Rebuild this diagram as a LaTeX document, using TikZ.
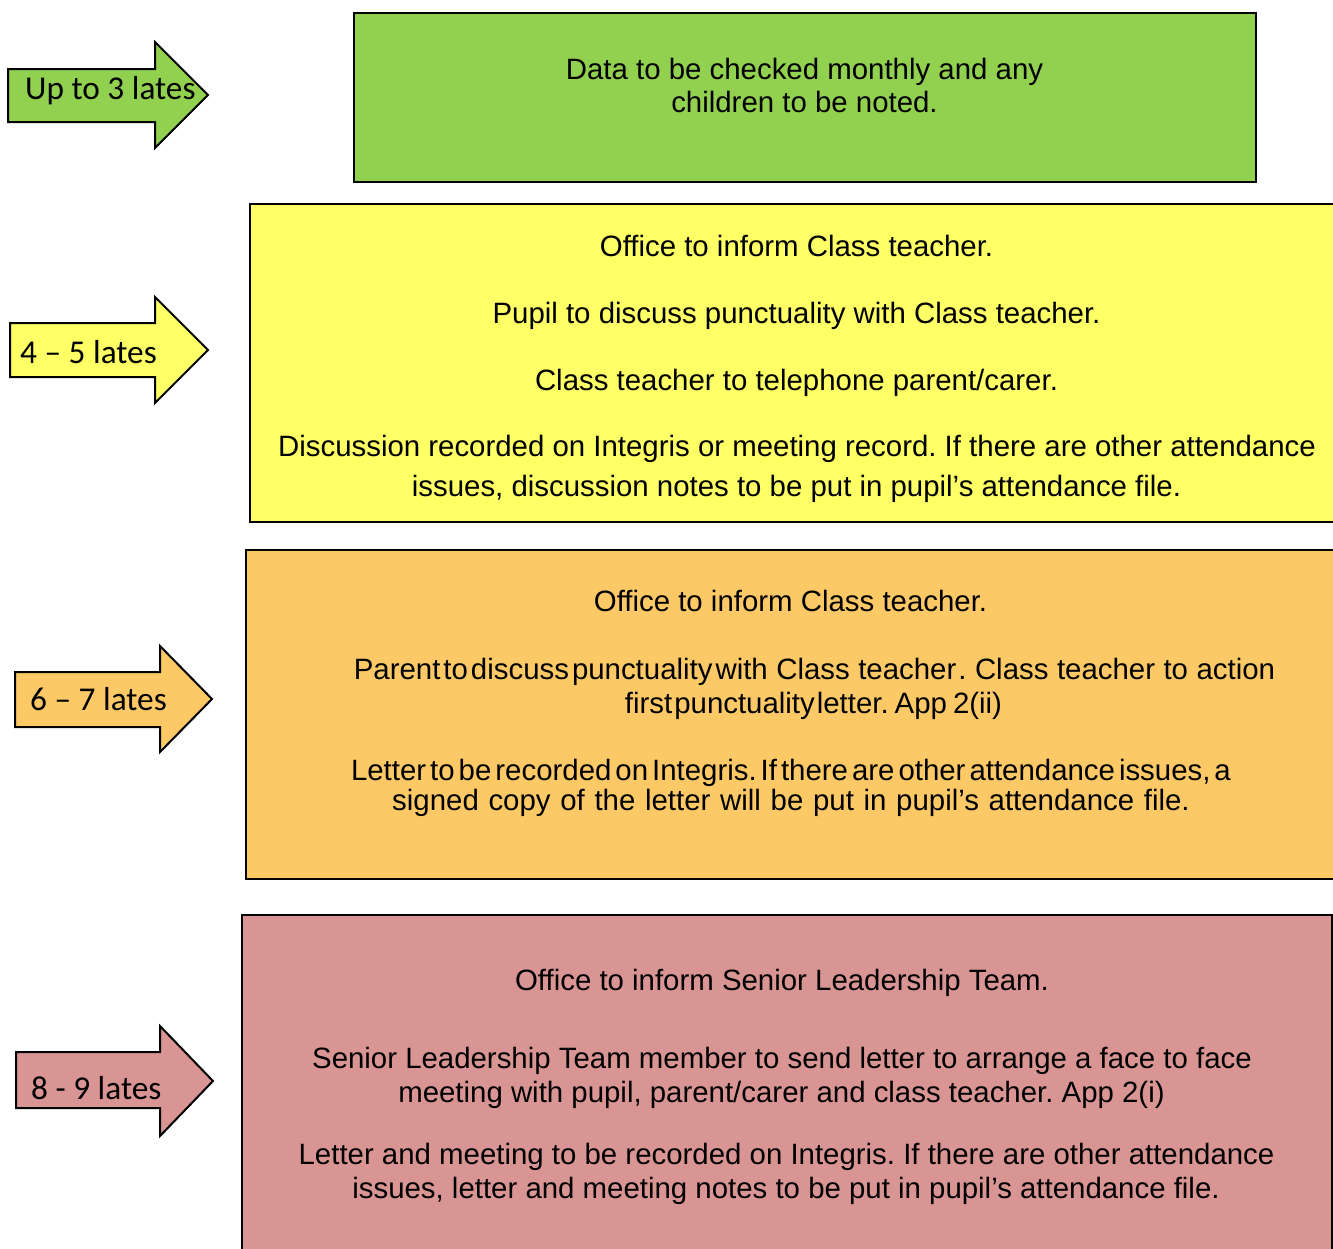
\documentclass[tikz,border=0pt]{standalone}
\usepackage{fontspec}
\setmainfont{Liberation Sans}
\newfontfamily\calib{Carlito}
\definecolor{lgreen}{HTML}{92D050}
\definecolor{lyellow}{HTML}{FFFF66}
\definecolor{lorange}{HTML}{FDC966}
\definecolor{lpink}{HTML}{D99594}
\frenchspacing
\begin{document}
\begin{tikzpicture}[x=1pt,y=-1pt,
  box/.style={draw=black,line width=2pt,anchor=north west,inner sep=0pt},
  arw/.style={draw=black,line width=2pt,line join=miter},
  txt/.style={anchor=base,inner sep=0pt,font=\fontsize{29.4}{33.5}\selectfont\frenchspacing},
  atxt/.style={anchor=base west,inner sep=0pt,font=\calib\fontsize{33.3}{40}\selectfont}]
\useasboundingbox (0,0) rectangle (1333,1248);
\fill[white] (0,0) rectangle (1333,1248);

% boxes
\node[box,fill=lgreen,minimum width=902pt,minimum height=169pt] (bgreen) at (353,12) {};
\node[box,fill=lyellow,minimum width=1100pt,minimum height=318pt] (byellow) at (249,203) {};
\node[box,fill=lorange,minimum width=1100pt,minimum height=329pt] (borange) at (245,549) {};
\node[box,fill=lpink,minimum width=1090pt,minimum height=350pt] (bpink) at (241,914) {};

% green text
\node[txt] (g1) at (804.5,79) {Data to be checked monthly and any};
\node[txt] (g2) at (804.5,112) {children to be noted.};

% yellow text
\node[txt] (y1) at (796.5,256) {Office to inform Class teacher.};
\node[txt] (y2) at (796.5,323) {Pupil to discuss punctuality with Class teacher.};
\node[txt] (y3) at (796.5,390) {Class teacher to telephone parent/carer.};
\node[txt] (y4) at (797,456) {Discussion recorded on Integris or meeting record. If there are other attendance};
\node[txt] (y5) at (796.5,496) {issues, discussion notes to be put in pupil’s attendance file.};

% orange text
\node[txt] (o1) at (790.5,611) {Office to inform Class teacher.};
\node[txt] (o2) at (814.5,679) {{\spaceskip=3pt Parent to discuss punctuality with}{\spaceskip=8.5pt{} Class teacher\hspace{2pt}. Class teacher to action}};
\node[txt] (o3) at (813.5,713) {{\spaceskip=2pt first punctuality letter.}{\spaceskip=6pt{} App 2(ii)}};
\node[txt] (o4) at (791,780) {{\spaceskip=4pt Letter to be recorded on Integris. If there are other attendance issues, a}};
\node[txt] (o5) at (791,810) {{\spaceskip=9.7pt signed copy of the letter will be put in pupil’s attendance file.}};

% pink text
\node[txt] (p1) at (782,990) {Office to inform Senior Leadership Team.};
\node[txt] (p2) at (782,1068) {Senior Leadership Team member to send letter to arrange a face to face};
\node[txt] (p3) at (781.5,1102) {meeting with pupil, parent/carer and class teacher. App 2(i)};
\node[txt] (p4) at (786.5,1164) {Letter and meeting to be recorded on Integris. If there are other attendance};
\node[txt] (p5) at (786,1198) {issues, letter and meeting notes to be put in pupil’s attendance file.};

% arrows
\draw[arw,fill=lgreen] (8,69) -- (155,69) -- (155,42) -- (208,95) -- (155,148) -- (155,122) -- (8,122) -- cycle;
\node[atxt] (a1) at (25,99) {Up to 3 lates};
\draw[arw,fill=lyellow] (10,323) -- (155,323) -- (155,297) -- (208,350) -- (155,403) -- (155,377) -- (10,377) -- cycle;
\node[atxt] (a2) at (20,363) {4 – 5 lates};
\draw[arw,fill=lorange] (15,672) -- (160,672) -- (160,646) -- (212,699) -- (160,752) -- (160,727) -- (15,727) -- cycle;
\node[atxt] (a3) at (30,710) {6 – 7 lates};
\draw[arw,fill=lpink] (16,1052) -- (160,1052) -- (160,1026) -- (213,1081) -- (160,1136) -- (160,1108) -- (16,1108) -- cycle;
\node[atxt] (a4) at (31,1099) {8 - 9 lates};
\end{tikzpicture}
\end{document}
